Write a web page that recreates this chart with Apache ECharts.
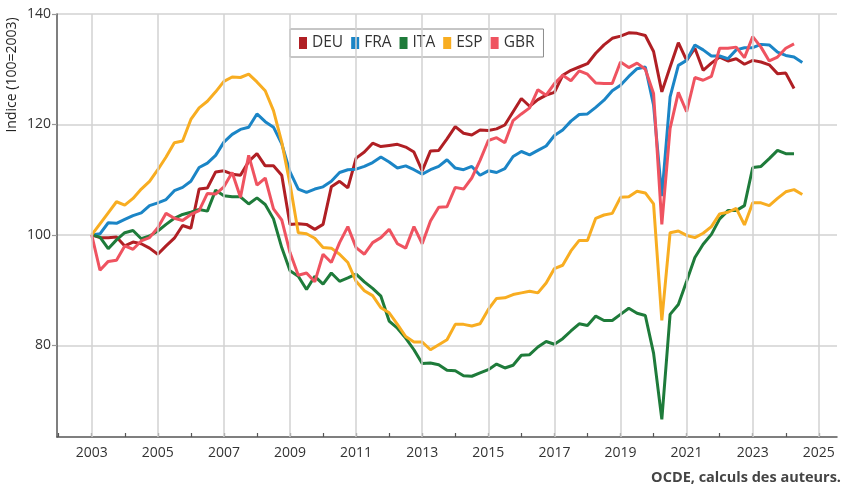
<!DOCTYPE html>
<html>
<head>
<meta charset="utf-8">
<script src="https://cdn.jsdelivr.net/npm/echarts@6/dist/echarts.min.js"></script>
<style>
html,body{margin:0;padding:0;background:#fff;}
#chart{width:844px;height:490px;}
</style>
</head>
<body>
<div id="chart"></div>
<script>
// Quarterly index series, first point = 2003 Q1
var startYear = 2003;
var seriesNames = ['DEU', 'FRA', 'ITA', 'ESP', 'GBR'];
var DEU = [100,99.5,99.5,99.6,98.0,98.7,98.4,97.6,96.5,98.0,99.4,101.7,101.2,108.3,108.5,111.4,111.6,111.0,110.8,113.3,114.7,112.5,112.5,110.8,101.9,102.0,101.9,101.0,101.9,108.7,109.7,108.5,113.9,115.0,116.6,116.0,116.2,116.4,115.9,115.0,111.6,115.2,115.3,117.4,119.6,118.4,118.1,119.0,118.9,119.2,119.9,122.3,124.7,123.3,124.5,125.3,125.8,128.9,129.8,130.4,131.0,132.9,134.4,135.6,136.0,136.6,136.5,136.1,133.2,125.9,130.4,134.8,131.6,133.8,129.8,131.1,132.2,131.5,131.9,130.9,131.6,131.3,130.8,129.2,129.3,126.5];
var FRA = [100,100.2,102.2,102.1,102.8,103.5,104.0,105.3,105.8,106.4,108.0,108.6,109.7,112.2,113.0,114.4,116.8,118.2,119.1,119.5,121.9,120.5,119.5,116.5,111.4,108.3,107.7,108.3,108.7,109.7,111.3,111.8,111.9,112.4,113.1,114.1,113.2,112.1,112.5,111.8,111.0,111.8,112.4,113.6,112.1,111.8,112.4,110.8,111.6,111.3,112.0,114.2,115.1,114.5,115.3,116.1,118.0,119.0,120.6,121.8,121.9,123.1,124.4,126.1,127.1,128.7,130.1,130.4,123.5,107.0,125.0,130.7,131.6,134.4,133.5,132.4,132.4,131.9,133.5,133.9,133.9,134.5,134.4,133.1,132.5,132.2,131.2];
var ITA = [100,99.6,97.5,99.1,100.4,100.8,99.3,99.8,100.7,101.9,103.0,103.7,104.1,104.6,104.3,108.1,107.1,106.9,106.9,105.6,106.7,105.5,102.9,97.7,93.5,92.5,90.1,92.5,91.1,93.1,91.6,92.2,92.9,91.5,90.3,88.9,84.4,83.1,81.3,79.2,76.7,76.8,76.5,75.5,75.4,74.5,74.4,75.0,75.6,76.6,75.9,76.4,78.2,78.3,79.7,80.7,80.2,81.2,82.6,83.9,83.6,85.3,84.5,84.5,85.6,86.7,85.8,85.4,78.6,66.6,85.6,87.4,91.6,95.9,98.3,100.1,102.9,104.4,104.4,105.3,112.2,112.4,113.8,115.3,114.7,114.7];
var ESP = [100,102,104,106,105.4,106.6,108.3,109.7,111.8,114.1,116.7,117.0,120.9,123.0,124.2,125.9,127.8,128.6,128.5,129.1,127.7,126.1,122.5,116.8,109.2,100.4,100.2,99.4,97.7,97.6,96.5,95.0,91.6,89.9,89.0,86.8,85.9,83.8,81.6,80.6,80.6,79.2,80.1,81.0,83.8,83.8,83.5,83.9,86.5,88.5,88.6,89.2,89.5,89.8,89.5,91.3,93.9,94.5,97.1,99.0,99.0,103.0,103.6,103.9,106.8,106.9,107.9,107.6,105.6,84.5,100.4,100.7,99.9,99.5,100.3,101.5,103.8,104.1,104.8,101.8,105.8,105.8,105.3,106.6,107.8,108.2,107.3];
var GBR = [100,93.6,95.2,95.4,98.0,97.4,98.9,99.5,101.3,103.9,103.0,102.6,103.7,104.4,107.5,107.4,108.7,111.3,106.8,114.4,109.0,110.3,104.7,102.7,96.8,92.7,93.1,91.5,96.5,95.0,98.6,101.5,97.7,96.5,98.6,99.5,101.0,98.4,97.6,101.5,98.4,102.5,105.0,105.1,108.6,108.3,110.3,113.5,117.1,117.6,116.7,120.7,121.9,123.0,126.3,125.3,127.4,128.9,127.9,129.7,129.1,127.5,127.4,127.4,131.3,130.3,131.1,130.0,125.6,101.9,119.3,125.8,122.3,128.5,128.0,128.7,133.8,133.8,134.0,132.1,135.9,134.0,131.5,132.2,133.8,134.6];

var yTicks = [80, 100, 120, 140];
var xTickYears = [2002,2003,2004,2005,2006,2007,2008,2009,2010,2011,2012,2013,2014,2015,2016,2017,2018,2019,2020,2021,2022,2023,2024,2025];
var xLabelYears = [2003,2005,2007,2009,2011,2013,2015,2017,2019,2021,2023,2025];

var colors = ['#b01f24', '#1b85c6', '#1e7b3a', '#f8ad21', '#ef5360'];
var values = [DEU, FRA, ITA, ESP, GBR];

function toPairs(arr) {
  return arr.map(function (v, i) { return [startYear + i / 4, v]; });
}

var font = '"Open Sans", "Noto Sans", sans-serif';

var series = [{
  type: 'line',
  data: [],
  z: 1,
  silent: true,
  markLine: {
    silent: true,
    symbol: ['none', 'none'],
    label: { show: false },
    lineStyle: { color: '#d2d2d2', width: 1.5, type: 'solid' },
    emphasis: { disabled: true },
    animation: false,
    data: xLabelYears.map(function (y) { return { xAxis: y }; })
  }
}];
seriesNames.forEach(function (name, k) {
  series.push({
    name: name,
    type: 'line',
    data: toPairs(values[k]),
    showSymbol: false,
    symbol: 'none',
    color: colors[k],
    lineStyle: { width: 3, color: colors[k] },
    z: 3
  });
});

var chart = echarts.init(document.getElementById('chart'));
chart.setOption({
  animation: false,
  backgroundColor: '#ffffff',
  grid: { left: 57, right: 7, top: 14, bottom: 53 },
  legend: {
    data: seriesNames,
    left: 290,
    top: 29,
    icon: 'rect',
    itemWidth: 8,
    itemHeight: 12,
    itemGap: 8,
    padding: [6, 9, 6, 9],
    borderColor: '#8c8c8c',
    borderWidth: 1,
    borderRadius: 0,
    textStyle: { fontSize: 15.5, color: '#333', fontFamily: font }
  },
  xAxis: {
    type: 'value',
    min: 2001.95,
    max: 2025.55,
    axisLine: { show: true, lineStyle: { color: '#555', width: 1.5 } },
    axisTick: { show: true, inside: true, length: 4, customValues: xTickYears, lineStyle: { color: '#555', width: 1.2 } },
    axisLabel: { customValues: xLabelYears, formatter: function (v) { return String(v); }, fontSize: 14, color: '#333', fontFamily: font, margin: 9 },
    splitLine: { show: false }
  },
  yAxis: {
    type: 'value',
    min: 63.4,
    max: 140,
    axisLine: { show: true, lineStyle: { color: '#555', width: 1.5 } },
    axisTick: { show: true, inside: false, length: 5, customValues: yTicks, lineStyle: { color: '#999', width: 1.2 } },
    axisLabel: { customValues: yTicks, fontSize: 14, color: '#333', fontFamily: font, margin: 6 },
    splitLine: { show: true, lineStyle: { color: '#d2d2d2', width: 1.5 } }
  },
  graphic: [
    {
      type: 'text',
      x: 12.5,
      y: 75,
      rotation: Math.PI / 2,
      style: { text: 'Indice (100=2003)', font: '14px ' + font, fill: '#222', align: 'center', verticalAlign: 'middle' }
    },
    {
      type: 'text',
      x: 841,
      y: 478,
      style: { text: 'OCDE, calculs des auteurs.', font: 'bold 14.5px ' + font, fill: '#444', align: 'right', verticalAlign: 'middle' }
    }
  ],
  series: series
});
</script>
</body>
</html>
